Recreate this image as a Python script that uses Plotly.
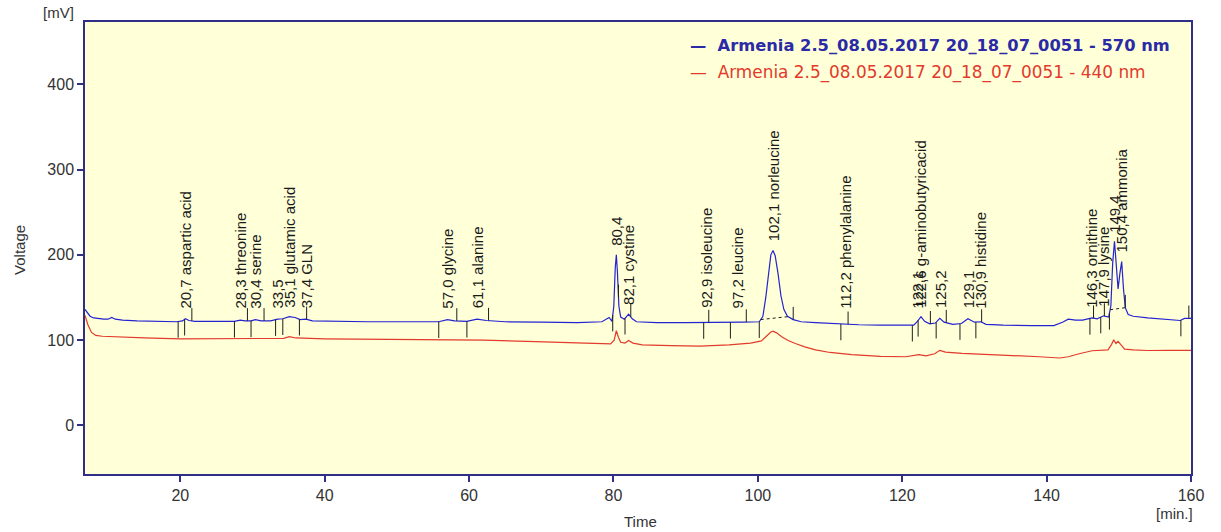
import numpy as np
import plotly.graph_objects as go

# Chromatogram traces: retention time [min] and detector signal [mV]
blue_time = [6.8, 7.1, 7.5, 8.0, 8.6, 9.4, 10.0, 10.5, 11.0, 12.0, 14.0, 17.0, 19.5, 20.3, 20.7,
             21.2, 22.0, 25.0, 27.5, 28.3, 29.0, 29.8, 30.4, 31.2, 32.5, 33.5, 34.2, 35.1, 35.9,
             36.6, 37.4, 38.3, 41.0, 46.0, 52.0, 55.8, 57.0, 58.0, 59.7, 61.1, 62.4, 65.0, 70.0,
             75.0, 78.4, 79.0, 79.4, 79.8, 80.05, 80.25, 80.4, 80.55, 80.75, 81.0, 81.5, 82.1,
             82.6, 83.2, 86.0, 90.0, 94.0, 98.0, 100.2, 100.7, 101.1, 101.5, 101.8, 102.1, 102.4,
             102.8, 103.2, 103.6, 104.1, 104.9, 106.0, 108.0, 111.0, 114.0, 117.0, 120.0, 121.6,
             122.1, 122.6, 123.1, 123.8, 124.6, 125.2, 125.8, 127.0, 128.2, 129.1, 130.0, 130.9,
             131.6, 134.0, 138.0, 141.0, 142.2, 143.0, 144.0, 145.0, 146.3, 147.0, 147.9, 148.6,
             148.9, 149.15, 149.4, 149.65, 149.9, 150.15, 150.4, 150.65, 150.9, 151.3, 152.0,
             154.0, 156.0, 158.5, 159.1, 160.0]
blue_mv = [136, 132, 128, 126, 125, 124.5, 124.5, 126.5, 124.5, 123.5, 122.5, 122, 121.5, 122.5, 125,
           123, 122, 122, 122, 123.5, 122.5, 122.5, 124, 122.5, 122.5, 124.5, 125, 127.5, 126.5,
           124, 124.5, 122.5, 122, 121.5, 121.5, 121.5, 124, 122.5, 122, 124.5, 123, 121.5, 121,
           120.5, 121.5, 125, 126.5, 122, 140, 185, 200, 180, 140, 127, 124.5, 130.5,
           125, 121.5, 120.5, 120.5, 120.5, 121, 121.5, 128, 150, 183, 200, 205, 199,
           178, 152, 136, 128, 124, 121.5, 120.5, 119, 118, 117.5, 117, 117.5,
           122, 127.5, 122, 119, 120, 125.5, 121, 118.5, 119.5, 125, 121, 121.5,
           118.5, 117.5, 117, 117, 121, 124.5, 123.5, 123.5, 126, 125, 128.5, 127,
           140, 190, 216, 185, 160, 178, 192, 160, 138, 130, 128,
           126, 124.5, 123, 125.5, 125.5]

red_time = [6.8, 7.2, 7.7, 8.3, 9.2, 10.5, 12.0, 15.0, 20.0, 25.0, 30.0, 34.3, 35.1, 36.0, 40.0,
            50.0, 57.0, 62.0, 68.0, 74.0, 79.6, 80.1, 80.4, 80.7, 81.0, 81.6, 82.1, 82.7, 84.0,
            88.0, 92.0, 96.0, 99.0, 100.5, 101.2, 101.8, 102.1, 102.6, 103.3, 104.2, 105.2,
            106.5, 108.0, 110.0, 113.0, 117.0, 120.5, 122.3, 123.3, 124.5, 125.2, 126.0, 128.3,
            131.0, 135.0, 139.0, 141.8, 143.0, 144.5, 146.3, 148.5, 149.0, 149.3, 149.6, 149.9,
            150.3, 150.8, 152.0, 154.0, 157.0, 160.0]
red_mv = [129, 118, 109, 105.5, 104.5, 104, 103, 102.5, 101.5, 101.5, 101.3, 102, 104, 102.5, 101.5,
          100.8, 100.5, 100, 98.5, 96.5, 95.5, 100, 111, 103, 97.5, 96.5, 99.5, 96.5, 94.5,
          93.5, 93, 94.5, 96.5, 99, 104.5, 109.5, 110.5, 108.5, 104, 99.5, 96,
          92, 88.5, 85.5, 83, 81, 80.5, 83, 81.5, 84, 88, 86, 84.5,
          83.5, 82.5, 80.5, 79, 80.5, 84, 87.5, 88.5, 95, 100.5, 96, 98.5,
          94, 89.5, 88.5, 87.8, 88, 88]

# Identified peaks (retention time, compound)
peak_times = [20.7, 28.3, 30.4, 33.5, 35.1, 37.4, 57.0, 61.1, 80.4, 82.1, 92.9, 97.2, 102.1,
              112.2, 122.1, 122.6, 125.2, 129.1, 130.9, 146.3, 147.9, 149.4, 150.4]
peak_names = ["aspartic acid", "threonine", "serine", "", "glutamic acid", "GLN", "glycine",
              "alanine", "", "cystine", "isoleucine", "leucine", "norleucine", "phenylalanine",
              "", "g-aminobutyricacid", "", "", "histidine", "ornithine", "lysine", "", "ammonia"]

# Integration marks: peak starts and peak ends
mark_start = [19.7, 20.6, 27.5, 29.8, 33.2, 34.2, 36.5, 55.8, 59.7, 79.9, 81.6, 92.5, 96.2,
              100.2, 111.5, 121.4, 122.2, 124.7, 128.0, 130.2, 146.0, 147.5, 148.7, 158.6]
mark_end = [21.6, 29.3, 31.6, 37.5, 58.3, 62.7, 80.7, 82.4, 93.2, 98.4, 104.9, 112.5, 123.9,
            126.1, 131.0, 146.5, 148.0, 150.9, 159.7]
baseline_spans = [(100.4, 104.2), (148.8, 150.9)]

x_ticks = [20, 40, 60, 80, 100, 120, 140, 160]
y_ticks = [0, 100, 200, 300, 400]

legend_blue = "Armenia 2.5_08.05.2017 20_18_07_0051 - 570 nm"
legend_red = "Armenia 2.5_08.05.2017 20_18_07_0051 - 440 nm"

BLUE = "#2323d2"
RED = "#e23a2c"
AXIS = "#2f2f86"
FONT = "Liberation Sans, Arial, sans-serif"
LEGEND_FONT = "DejaVu Sans, Verdana, sans-serif"

bt = np.array(blue_time)
bv = np.array(blue_mv)


def blue_at(t):
    return float(np.interp(t, bt, bv))


fig = go.Figure()

fig.add_trace(go.Scatter(x=red_time, y=red_mv, mode="lines",
                         line=dict(color=RED, width=1.2), hoverinfo="skip"))
fig.add_trace(go.Scatter(x=blue_time, y=blue_mv, mode="lines",
                         line=dict(color=BLUE, width=1.2), hoverinfo="skip"))

# peak start / end ticks
mx, my = [], []
for t in mark_start:
    b = blue_at(t)
    mx += [t, t, None]
    my += [b, b - 19, None]
for t in mark_end:
    b = blue_at(t)
    mx += [t, t, None]
    my += [b, b + 15, None]
fig.add_trace(go.Scatter(x=mx, y=my, mode="lines",
                         line=dict(color="#1e1e1e", width=1), hoverinfo="skip"))

# baselines drawn under the larger peaks
sx, sy = [], []
for a, b in baseline_spans:
    sx += [a, b, None]
    sy += [blue_at(a), blue_at(b), None]
fig.add_trace(go.Scatter(x=sx, y=sy, mode="lines",
                         line=dict(color="#1e1e1e", width=1, dash="dot"), hoverinfo="skip"))

annotations = []
for t, name in zip(peak_times, peak_names):
    win = (bt >= t - 0.3) & (bt <= t + 0.3)
    apex = float(bv[win].max()) if win.any() else blue_at(t)
    ly = max(135.0, apex + 8)
    label = f"{t:.1f}".replace(".", ",") + (" " + name if name else "")
    annotations.append(dict(x=t, y=ly, xref="x", yref="y", text=label, showarrow=False,
                            textangle=-90, xanchor="center", yanchor="bottom",
                            font=dict(family=FONT, size=15, color="#1a1a1a")))

# legend entries
annotations.append(dict(x=0.545, y=0.947, xref="paper", yref="paper", showarrow=False,
                        xanchor="left", yanchor="middle",
                        text="<b>—  " + legend_blue + "</b>",
                        font=dict(family=LEGEND_FONT, size=16.3, color="#2a2aa6")))
annotations.append(dict(x=0.545, y=0.889, xref="paper", yref="paper", showarrow=False,
                        xanchor="left", yanchor="middle",
                        text="—  " + legend_red,
                        font=dict(family=LEGEND_FONT, size=16.9, color=RED)))

# axis captions
cap = dict(family=FONT, size=15, color="#333333")
annotations += [
    dict(x=-0.0244, y=1.022, xref="paper", yref="paper", text="[mV]", showarrow=False,
         xanchor="center", yanchor="middle", font=cap),
    dict(x=-0.0588, y=0.4956, xref="paper", yref="paper", text="Voltage", showarrow=False,
         textangle=-90, xanchor="center", yanchor="middle", font=cap),
    dict(x=0.5027, y=-0.104, xref="paper", yref="paper", text="Time", showarrow=False,
         xanchor="center", yanchor="middle", font=cap),
    dict(x=0.9855, y=-0.0863, xref="paper", yref="paper", text="[min.]", showarrow=False,
         xanchor="center", yanchor="middle", font=cap),
]

fig.update_layout(
    width=1221, height=532,
    margin=dict(l=85, r=30, t=22, b=58),
    paper_bgcolor="white",
    plot_bgcolor="#ffffd8",
    showlegend=False,
    annotations=annotations,
    xaxis=dict(range=[6.8, 160], tickvals=x_ticks, ticks="outside", ticklen=6,
               tickcolor=AXIS, tickwidth=1.5, showline=True, linecolor=AXIS, linewidth=1.5,
               mirror=True, showgrid=False, zeroline=False,
               tickfont=dict(family=FONT, size=16, color="#333333")),
    yaxis=dict(range=[-57, 473], tickvals=y_ticks, ticks="outside", ticklen=6,
               tickcolor=AXIS, tickwidth=1.5, showline=True, linecolor=AXIS, linewidth=1.5,
               mirror=True, showgrid=False, zeroline=False,
               tickfont=dict(family=FONT, size=16, color="#333333")),
)

fig.write_html("out.html")
